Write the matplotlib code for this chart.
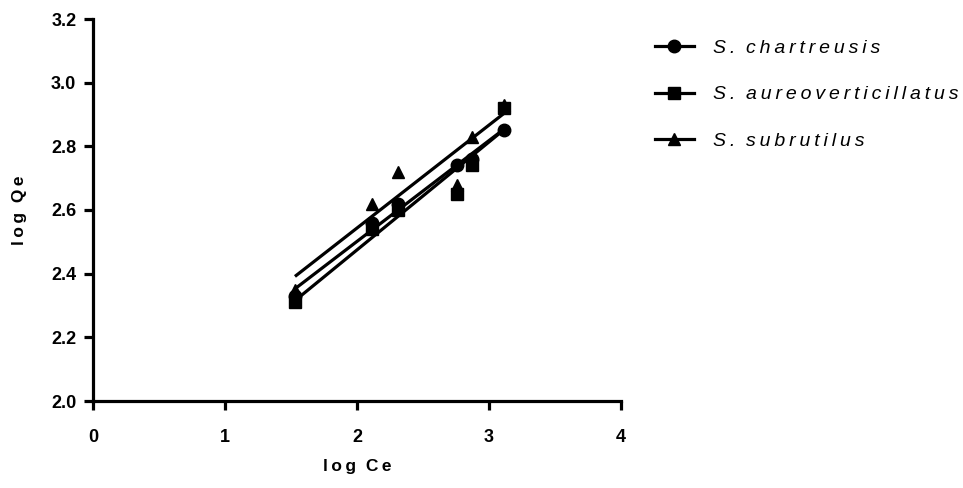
import numpy as np
import matplotlib
matplotlib.use("Agg")
import matplotlib.pyplot as plt

# ---- data ----
series_names = ["S. chartreusis", "S. aureoverticillatus", "S. subrutilus"]
log_ce = [1.53, 2.11, 2.31, 2.76, 2.87, 3.11]
logqe_chartreusis = [2.33, 2.56, 2.62, 2.74, 2.76, 2.85]
logqe_aureo = [2.31, 2.54, 2.60, 2.65, 2.74, 2.92]
logqe_subrutilus = [2.35, 2.62, 2.72, 2.68, 2.83, 2.93]
x_ticks = [0, 1, 2, 3, 4]
y_ticks = [2.0, 2.2, 2.4, 2.6, 2.8, 3.0, 3.2]

series_values = [logqe_chartreusis, logqe_aureo, logqe_subrutilus]
markers = ["o", "s", "^"]

FAM = ["Liberation Sans", "DejaVu Sans"]
plt.rcParams["font.family"] = FAM


def spaced(s, sep="\u2009"):
    return sep.join(list(s))


fig = plt.figure(figsize=(9.63, 4.88), dpi=100)
ax = fig.add_axes([93 / 963, 1 - 401 / 488, (621 - 93) / 963, (401 - 19) / 488])

x = np.array(log_ce)
handles = []
for name, vals, m in zip(series_names, series_values, markers):
    y = np.array(vals)
    slope, icpt = np.polyfit(x, y, 1)
    xf = np.array([x.min(), x.max()])
    ax.plot(xf, slope * xf + icpt, color="black", lw=2.3, solid_capstyle="butt", zorder=2)
    ax.plot(x, y, linestyle="none", marker=m, color="black", markersize=9, zorder=3)
    genus, species = name.split(" ")
    h, = ax.plot([], [], color="black", lw=2.3, marker=m, markersize=9,
                 label=spaced(genus) + "  " + spaced(species))
    handles.append(h)

ax.set_xlim(0, 4)
ax.set_ylim(2.0, 3.2)
ax.set_xticks(x_ticks)
ax.set_xticklabels([str(t) for t in x_ticks])
ax.set_yticks(y_ticks)
ax.set_yticklabels([f"{t:.1f}" for t in y_ticks])

for side in ["top", "right"]:
    ax.spines[side].set_visible(False)
for side in ["left", "bottom"]:
    ax.spines[side].set_linewidth(2.3)
ax.tick_params(axis="both", direction="out", length=6.5, width=2.3, labelsize=13)
ax.tick_params(axis="x", pad=14)
ax.tick_params(axis="y", pad=5.5)
for lab in ax.get_xticklabels() + ax.get_yticklabels():
    lab.set_fontweight("bold")

ax.set_xlabel(spaced("log") + "  " + spaced("Ce"), fontsize=12.5, fontweight="bold", labelpad=9)
ax.set_ylabel(spaced("log") + "  " + spaced("Qe"), fontsize=12.5, fontweight="bold", labelpad=17)

leg = fig.legend(handles=handles, loc="upper left", bbox_to_anchor=(655 / 963, 1 - 39 / 488),
                 frameon=False, borderaxespad=0, borderpad=0, handlelength=2.0,
                 handletextpad=1.0, labelspacing=1.5,
                 prop={"family": FAM, "style": "italic", "size": 14})

fig.savefig("out.png", dpi=100)
